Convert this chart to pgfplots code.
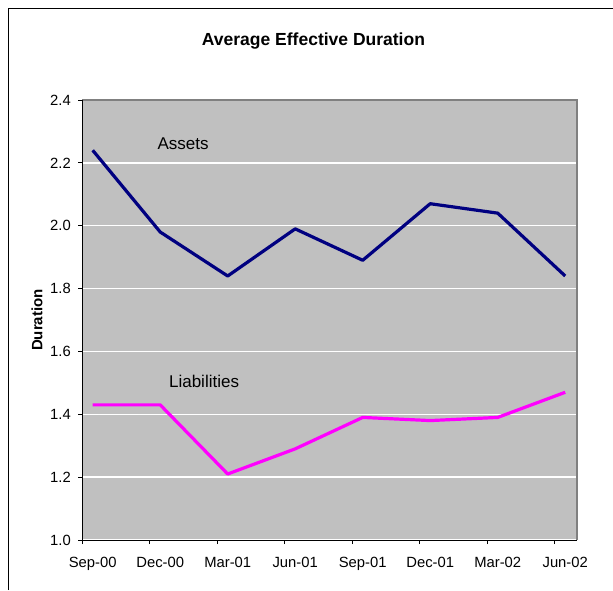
\documentclass[border=0pt]{standalone}
\usepackage{fontspec}
\setmainfont{Liberation Sans}
\usepackage{pgfplots}
\pgfplotsset{compat=1.18}

\definecolor{assetblue}{RGB}{0,0,128}
\definecolor{liabpink}{RGB}{255,0,255}
\definecolor{plotgray}{RGB}{192,192,192}
\definecolor{edgegray}{RGB}{128,128,128}

\begin{document}
\begin{tikzpicture}
% 1pt here = 1px of the reference
\useasboundingbox (0,0) rectangle (613pt,590pt);
\draw[black, line width=1pt] (8pt,0) -- (8pt,581pt) -- (613pt,581pt);

\node[font=\fontsize{17.5}{20}\selectfont\bfseries] at (313.5pt,549pt) {Average Effective Duration};
\node[font=\fontsize{15}{18}\selectfont\bfseries, rotate=90] at (37pt,270pt) {Duration};

\begin{axis}[at={(82.3pt,50pt)}, anchor=south west,
             scale only axis,
             width=494.4pt,
             height=440pt,
             xmin=-0.154, xmax=7.17,
             ymin=1.0, ymax=2.4,
             % ticks sit a little left of each month's point, as in the source
             xtick={-0.154,0.846,1.846,2.846,3.846,4.846,5.846,6.846},
             xticklabels={Sep-00,Dec-00,Mar-01,Jun-01,Sep-01,Dec-01,Mar-02,Jun-02},
             ytick={1.0,1.2,...,2.4},
             yticklabel style={/pgf/number format/fixed,
                               /pgf/number format/fixed zerofill,
                               /pgf/number format/precision=1,
                               xshift=-4pt},
             /pgf/number format/assume math mode=true,
             ticklabel style={font=\fontsize{14.8}{17}\selectfont},
             xtick pos=bottom, ytick pos=left,
             tick align=outside,
             major tick length=4pt,
             tick style={black, line width=0.8pt},
             xticklabel style={xshift=10.4pt, yshift=-10pt},
             ymajorgrids=true,
             grid style={white, line width=1.3pt},
             axis line style={draw=none},
             axis background/.style={fill=plotgray},
             clip=false]

    \addplot[assetblue, line width=3.2pt, line join=round] coordinates {
        (0, 2.24)
        (1, 1.98)
        (2, 1.84)
        (3, 1.99)
        (4, 1.89)
        (5, 2.07)
        (6, 2.04)
        (7, 1.84)
    };

    \addplot[liabpink, line width=3.2pt, line join=round] coordinates {
        (0, 1.43)
        (1, 1.43)
        (2, 1.21)
        (3, 1.29)
        (4, 1.39)
        (5, 1.38)
        (6, 1.39)
        (7, 1.47)
    };

    \draw[edgegray, line width=2pt] (rel axis cs:0,1) -- (rel axis cs:1,1) -- (rel axis cs:1,0);
    \draw[black, line width=1pt] (rel axis cs:0,1) -- (rel axis cs:0,0) -- (rel axis cs:1,0);

    \node[font=\fontsize{17}{20}\selectfont] at (axis cs:1.34,2.26) {Assets};
    \node[font=\fontsize{17}{20}\selectfont] at (axis cs:1.65,1.504) {Liabilities};

\end{axis}
\end{tikzpicture}
\end{document}
